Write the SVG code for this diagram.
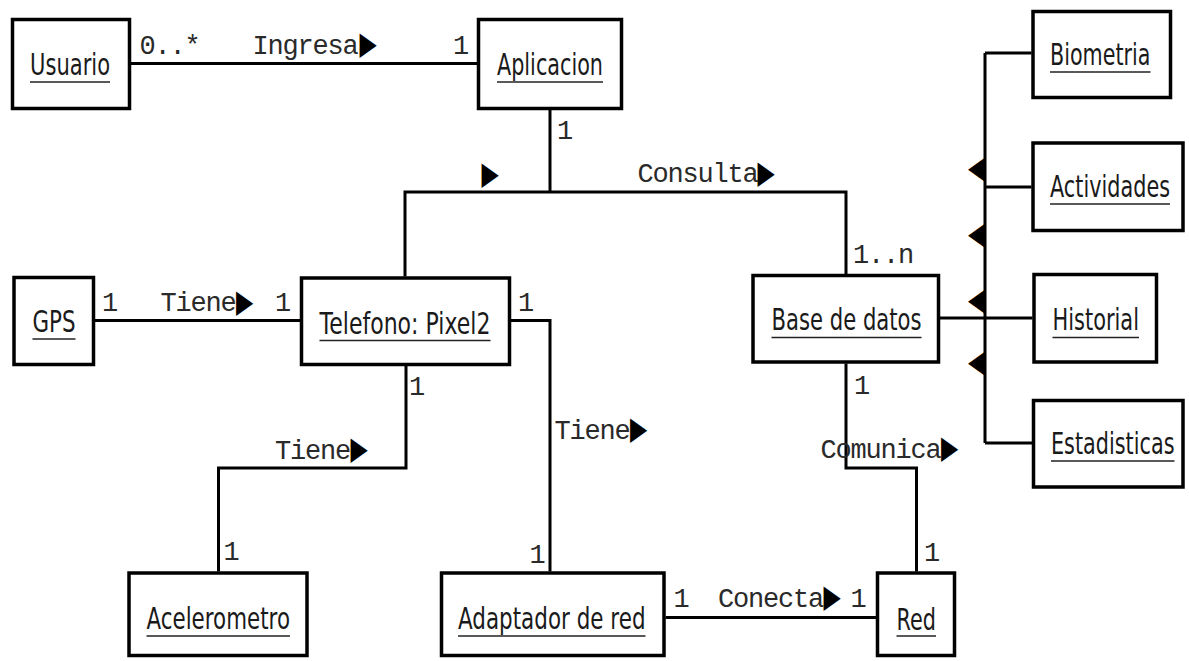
<svg xmlns="http://www.w3.org/2000/svg" width="1189" height="661" viewBox="0 0 1189 661">
  <style>
    .box { fill: #fff; stroke: #000; stroke-width: 3.5; }
    .name { font-family: "DejaVu Sans", "Liberation Sans", sans-serif; font-size: 30px; fill: #1a1a1a; }
    .ul { stroke: #222; stroke-width: 1.6; }
    .wire { fill: none; stroke: #000; stroke-width: 3; }
    .lbl { font-family: "Liberation Mono", "DejaVu Sans Mono", monospace; font-size: 27px; letter-spacing: -1.2px; fill: #2a2a2a; }
    .tri { font-family: "DejaVu Sans", sans-serif; font-size: 32px; fill: #000; }
  </style>
  <rect width="1189" height="661" fill="#fff"/>

  <!-- association lines -->
  <g id="connectors">
    <path class="wire" d="M131 63.5 H477"/>
    <path class="wire" d="M550 110 V192"/>
    <path class="wire" d="M405 276.5 V192 H846 V274"/>
    <path class="wire" d="M95 320.5 H300"/>
    <path class="wire" d="M406 366 V468 H218.5 V571.5"/>
    <path class="wire" d="M511 320.5 H550 V571.5"/>
    <path class="wire" d="M665.5 617.5 H876"/>
    <path class="wire" d="M846 363.5 V468 H916.5 V571.5"/>
    <path class="wire" d="M940 318 H1032.5"/>
    <path class="wire" d="M985 53 V443"/>
    <path class="wire" d="M985 53 H1031.5 M985 187 H1031.5 M985 443 H1032"/>
  </g>

  <!-- multiplicities and association names -->
  <g id="labels">
    <text class="lbl" x="139.5" y="53.5">0..*</text>
    <text class="lbl" x="252.5" y="53.5">Ingresa</text>
    <text class="lbl" x="453" y="53.5">1</text>
    <text class="lbl" x="557" y="139">1</text>
    <text class="lbl" x="637.5" y="182">Consulta</text>
    <text class="lbl" x="853" y="262.5">1..n</text>
    <text class="lbl" x="102" y="311">1</text>
    <text class="lbl" x="160.5" y="311">Tiene</text>
    <text class="lbl" x="275" y="311">1</text>
    <text class="lbl" x="518" y="311">1</text>
    <text class="lbl" x="409" y="395">1</text>
    <text class="lbl" x="275" y="458.5">Tiene</text>
    <text class="lbl" x="223.5" y="560">1</text>
    <text class="lbl" x="554.5" y="438.5">Tiene</text>
    <text class="lbl" x="529.5" y="562.5">1</text>
    <text class="lbl" x="673.5" y="606.5">1</text>
    <text class="lbl" x="718" y="606.5">Conecta</text>
    <text class="lbl" x="850.5" y="606.5">1</text>
    <text class="lbl" x="854" y="394">1</text>
    <text class="lbl" x="820.5" y="457.5">Comunica</text>
    <text class="lbl" x="924" y="560.5">1</text>
  </g>

  <!-- reading-direction triangles -->
  <g id="directions">
    <text class="tri" transform="translate(359.5 53.5) scale(0.7 1)">▶</text>
    <text class="tri" transform="translate(481.5 183.5) scale(0.7 1)">▶</text>
    <text class="tri" transform="translate(757.5 182.5) scale(0.7 1)">▶</text>
    <text class="tri" transform="translate(236 311.5) scale(0.7 1)">▶</text>
    <text class="tri" transform="translate(350.5 459) scale(0.7 1)">▶</text>
    <text class="tri" transform="translate(630 439) scale(0.7 1)">▶</text>
    <text class="tri" transform="translate(823.5 607) scale(0.7 1)">▶</text>
    <text class="tri" transform="translate(941 458) scale(0.7 1)">▶</text>
    <text class="tri" transform="translate(968 177.5) scale(0.7 1)">◀</text>
    <text class="tri" transform="translate(968 243.5) scale(0.7 1)">◀</text>
    <text class="tri" transform="translate(968 309.5) scale(0.7 1)">◀</text>
    <text class="tri" transform="translate(968 371.5) scale(0.7 1)">◀</text>
  </g>

  <!-- object boxes: names are drawn condensed (scale 0.71 horizontally) -->
  <g id="usuario">
    <rect class="box" x="12.5" y="19.5" width="117" height="89"/>
    <text class="name" transform="translate(30 75) scale(0.71 1)" textLength="112.7" lengthAdjust="spacingAndGlyphs">Usuario</text>
    <line class="ul" x1="30" y1="82" x2="110" y2="82"/>
  </g>
  <g id="aplicacion">
    <rect class="box" x="478.5" y="19.5" width="143" height="89"/>
    <text class="name" transform="translate(497 75) scale(0.71 1)" textLength="149.3" lengthAdjust="spacingAndGlyphs">Aplicacion</text>
    <line class="ul" x1="497" y1="82" x2="603" y2="82"/>
  </g>
  <g id="biometria">
    <rect class="box" x="1033" y="11.5" width="137.5" height="86"/>
    <text class="name" transform="translate(1050 65) scale(0.71 1)" textLength="141.5" lengthAdjust="spacingAndGlyphs">Biometria</text>
    <line class="ul" x1="1050" y1="72" x2="1150.5" y2="72"/>
  </g>
  <g id="actividades">
    <rect class="box" x="1033" y="143" width="150" height="87.5"/>
    <text class="name" transform="translate(1050 196.5) scale(0.71 1)" textLength="169" lengthAdjust="spacingAndGlyphs">Actividades</text>
    <line class="ul" x1="1050" y1="204" x2="1170" y2="204"/>
  </g>
  <g id="historial">
    <rect class="box" x="1034" y="274.5" width="122.5" height="87.5"/>
    <text class="name" transform="translate(1052.5 330) scale(0.71 1)" textLength="121.8" lengthAdjust="spacingAndGlyphs">Historial</text>
    <line class="ul" x1="1052.5" y1="337.5" x2="1139" y2="337.5"/>
  </g>
  <g id="estadisticas">
    <rect class="box" x="1033.5" y="400.5" width="149.5" height="86.5"/>
    <text class="name" transform="translate(1051 453.5) scale(0.71 1)" textLength="173.9" lengthAdjust="spacingAndGlyphs">Estadisticas</text>
    <line class="ul" x1="1051" y1="461" x2="1174.5" y2="461"/>
  </g>
  <g id="gps">
    <rect class="box" x="14" y="277.5" width="79.5" height="87"/>
    <text class="name" transform="translate(32.5 331.5) scale(0.71 1)" textLength="60.6" lengthAdjust="spacingAndGlyphs">GPS</text>
    <line class="ul" x1="32.5" y1="339" x2="75.5" y2="339"/>
  </g>
  <g id="telefono">
    <rect class="box" x="301.5" y="278" width="208" height="86.5"/>
    <text class="name" transform="translate(319.5 333.5) scale(0.71 1)" textLength="240.8" lengthAdjust="spacingAndGlyphs">Telefono: Pixel2</text>
    <line class="ul" x1="319.5" y1="340.5" x2="490.5" y2="340.5"/>
  </g>
  <g id="base-de-datos">
    <rect class="box" x="753" y="275.5" width="185.5" height="86.5"/>
    <text class="name" transform="translate(771.5 330) scale(0.71 1)" textLength="211.3" lengthAdjust="spacingAndGlyphs">Base de datos</text>
    <line class="ul" x1="771.5" y1="337.5" x2="921.5" y2="337.5"/>
  </g>
  <g id="acelerometro">
    <rect class="box" x="129" y="573" width="178" height="82.5"/>
    <text class="name" transform="translate(146.5 628.5) scale(0.71 1)" textLength="202.1" lengthAdjust="spacingAndGlyphs">Acelerometro</text>
    <line class="ul" x1="146.5" y1="636" x2="290" y2="636"/>
  </g>
  <g id="adaptador-de-red">
    <rect class="box" x="441.5" y="573" width="222.5" height="82.5"/>
    <text class="name" transform="translate(458 628.5) scale(0.71 1)" textLength="264.1" lengthAdjust="spacingAndGlyphs">Adaptador de red</text>
    <line class="ul" x1="458" y1="636" x2="645.5" y2="636"/>
  </g>
  <g id="red">
    <rect class="box" x="877.5" y="573" width="77" height="82.5"/>
    <text class="name" transform="translate(896.5 629.5) scale(0.71 1)" textLength="55.6" lengthAdjust="spacingAndGlyphs">Red</text>
    <line class="ul" x1="896.5" y1="636" x2="936" y2="636"/>
  </g>
</svg>
